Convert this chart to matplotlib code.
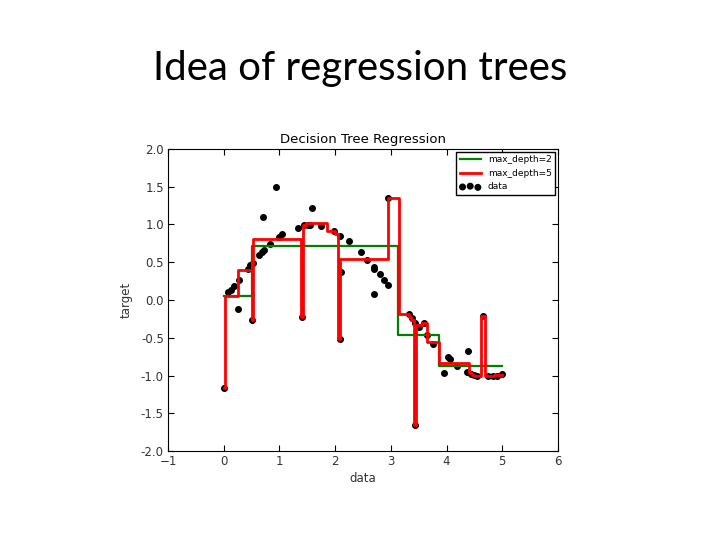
import matplotlib.pyplot as plt

# scatter data
data_x = [0.00, 0.08, 0.13, 0.19, 0.25, 0.28, 0.44, 0.48, 0.52, 0.51,
          0.64, 0.68, 0.70, 0.72, 0.84, 0.93, 1.00, 1.05, 1.33, 1.40,
          1.45, 1.51, 1.55, 1.58, 1.74, 1.98, 2.08, 2.09, 2.11, 2.24,
          2.47, 2.58, 2.69, 2.70, 2.69, 2.80, 2.88, 2.94, 2.95, 3.33,
          3.38, 3.43, 3.51, 3.43, 3.60, 3.64, 3.75, 3.96, 4.02, 4.06,
          4.18, 4.39, 4.37, 4.43, 4.49, 4.55, 4.65, 4.75, 4.83, 4.90,
          4.99]
data_y = [-1.16, 0.10, 0.13, 0.19, -0.12, 0.26, 0.41, 0.46, 0.49, -0.27,
          0.59, 0.63, 1.10, 0.66, 0.74, 1.49, 0.84, 0.87, 0.96, -0.22,
          0.99, 0.99, 0.99, 1.22, 0.98, 0.91, -0.52, 0.85, 0.37, 0.78,
          0.63, 0.53, 0.44, 0.41, 0.08, 0.34, 0.27, 0.20, 1.35, -0.19,
          -0.24, -0.30, -0.36, -1.65, -0.30, -0.47, -0.58, -0.97, -0.76, -0.78,
          -0.87, -0.68, -0.96, -0.98, -0.99, -1.00, -0.21, -1.01, -1.01, -1.00,
          -0.98]

# max_depth=2 tree: split edges and leaf values
d2_edges = [0.0, 0.51, 3.13, 3.87, 5.0]
d2_vals = [0.05, 0.72, -0.46, -0.87]

# max_depth=5 tree
d5_edges = [0.0, 0.03, 0.25, 0.51, 0.53, 1.38, 1.42, 1.48, 1.86, 2.00,
            2.06, 2.09, 2.94, 3.14, 3.33, 3.37, 3.42, 3.45, 3.56, 3.64,
            3.87, 4.41, 4.45, 4.50, 4.62, 4.69, 4.85, 5.0]
d5_vals = [-1.16, 0.05, 0.40, -0.27, 0.81, -0.22, 0.99, 1.02, 0.92, 0.88,
           -0.52, 0.54, 1.35, -0.19, -0.22, -0.26, -1.65, -0.33, -0.30, -0.55,
           -0.84, -0.97, -0.99, -1.00, -0.21, -1.01, -0.99]

fig = plt.figure(figsize=(7.2, 5.4), dpi=100)
fig.text(0.5, 0.873, 'Idea of regression trees', ha='center', va='center',
         fontsize=29, family=['Lato', 'DejaVu Sans'])

ax = fig.add_axes([0.2333, 0.1648, 0.5417, 0.5593])
pts = ax.scatter(data_x, data_y, c='k', s=16, label='data', zorder=2)
g, = ax.step(d2_edges, d2_vals + d2_vals[-1:], where='post', color='g',
             linewidth=1.6, label='max_depth=2', zorder=3)
r, = ax.step(d5_edges, d5_vals + d5_vals[-1:], where='post', color='r',
             linewidth=2, label='max_depth=5', zorder=4)

ax.set_xlim(-1, 6)
ax.set_ylim(-2, 2)
ax.set_xticks(range(-1, 7))
ax.set_yticks([-2.0, -1.5, -1.0, -0.5, 0.0, 0.5, 1.0, 1.5, 2.0])
ax.set_yticklabels(['%.1f' % v for v in ax.get_yticks()])
ax.tick_params(direction='in', top=True, right=True, labelsize=8.5,
               labelcolor='#333333', length=4, pad=3)
ax.set_xlabel('data', fontsize=8.5, labelpad=3, color='#333333')
ax.set_ylabel('target', fontsize=8.5, labelpad=6, color='#333333')
ax.set_title('Decision Tree Regression', fontsize=9.5, pad=4)

leg = ax.legend(handles=[g, r, pts], loc='upper right', fontsize=6.5,
                scatterpoints=3, fancybox=False, framealpha=1,
                borderaxespad=0.3, handlelength=2.3)
leg.get_frame().set_edgecolor('k')

plt.savefig('out.png', dpi=100)
